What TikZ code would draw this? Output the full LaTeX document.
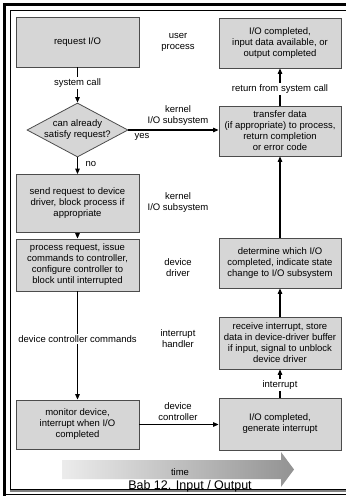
\documentclass[tikz,border=0pt]{standalone}
\usepackage{fontspec}
\setmainfont{Liberation Sans}
\usetikzlibrary{arrows.meta,shapes.geometric,backgrounds}
\begin{document}
\begin{tikzpicture}[x=1pt,y=-1pt,
  every node/.style={font=\fontsize{9.5}{11}\selectfont, text=black},
  box/.style={draw=black!70, line width=0.8pt, fill=gray!32, align=center, inner sep=0pt},
  lbox/.style={box, minimum width=123},
  rbox/.style={box, minimum width=122},
  dia/.style={diamond, draw=black!70, line width=0.8pt, fill=gray!32, minimum width=101, minimum height=54, inner sep=0pt},
  lbl/.style={align=center, inner sep=1.5pt},
  wlbl/.style={lbl, fill=white},
  arr/.style={line width=1.1pt, -{Triangle[length=5.5pt,width=4.5pt]}},
]
\useasboundingbox (0,0) rectangle (346,496);
\fill[white] (0,0) rectangle (346,496);

% frame
\draw[line width=3pt] (4.5,496) -- (4.5,4.5) -- (346,4.5);
\draw[line width=1pt] (10,489.5) -- (10,10) -- (346,10);
\draw[line width=1pt] (10,489.5) -- (346,489.5);
\draw[line width=1.5pt, gray] (10,491.2) -- (346,491.2);
\draw[line width=1pt] (4.5,494) -- (346,494);

% boxes
\node[lbox, minimum height=50] (A) at (77.5,42) {request I/O};
\node[rbox, minimum height=50] (B) at (280,43) {I/O completed,\\input data available, or\\output completed};
\node[rbox, minimum height=50] (C) at (280,131) {transfer data\\(if appropriate) to process,\\return completion\\or error code};
\node[dia] (D) at (77.5,130) {};
\node[lbl] (Dt) at (D.center) {can already\\satisfy request?};
\node[lbox, minimum height=58] (E) at (77.5,203.5) {send request to device\\driver, block process if\\appropriate};
\node[lbox, minimum height=52] (P) at (77.5,265) {process request, issue\\commands to controller,\\configure controller to\\block until interrupted};
\node[rbox, minimum height=50] (F) at (280,263) {determine which I/O\\completed, indicate state\\change to I/O subsystem};
\node[rbox, minimum height=52] (G) at (280,343) {receive interrupt, store\\data in device-driver buffer\\if input, signal to unblock\\device driver};
\node[rbox, minimum height=52] (H) at (280,424) {I/O completed,\\generate interrupt};
\node[lbox, minimum height=49] (I) at (77.5,424.5) {monitor device,\\interrupt when I/O\\completed};

% shadows
\begin{pgfonlayer}{background}
\foreach \n in {A,B,C,E,P,F,G,H,I}{
  \shade[left color=gray!12, right color=gray!90]
    ([shift={(3.5,-3.5)}]\n.south west) rectangle ([shift={(3.5,-3.5)}]\n.north east);
}
\shade[left color=gray!40, right color=gray!95]
  ([shift={(4.5,-2.4)}]D.north) -- ([shift={(4.5,-2.4)}]D.east) -- ([shift={(4.5,-2.4)}]D.south) -- ([shift={(4.5,-2.4)}]D.west) -- cycle;
\end{pgfonlayer}

% column labels
\node[lbl] (l1) at (178,42) {user\\process};
\node[lbl] (l2) at (178,116) {kernel\\I/O subsystem};
\node[lbl] (l3) at (178,203) {kernel\\I/O subsystem};
\node[lbl] (l4) at (178,268) {device\\driver};
\node[lbl] (l5) at (178,338.5) {interrupt\\handler};
\node[lbl] (l6) at (178,411.5) {device\\controller};

% connectors
\draw[arr] (A.south) -- (D.north);
\node[wlbl] (sc) at (77.5,83) {system call};
\draw[arr] (D.east) -- (D.east -| C.west);
\node[lbl] (yes) at (142,137) {yes};
\draw[arr] (D.south) -- (E.north);
\node[lbl] (no) at (91,164) {no};
\draw[arr] (E.south) -- (P.north);
\draw[arr] (P.south) -- (I.north);
\node[wlbl] (dcc) at (77.5,339) {device controller commands};
\draw[arr] (I.east) -- (I.east -| H.west);
\draw[arr] (H.north) -- (G.south);
\node[wlbl] (intr) at (280,385) {interrupt};
\draw[arr] (G.north) -- (F.south);
\draw[arr] (F.north) -- (C.south);
\draw[arr] (C.north) -- (B.south);
\node[wlbl] (ret) at (280,89) {return from system call};

% time arrow
\shade[left color=gray!15, right color=gray!85]
  (62,460) -- (281,460) -- (281,452) -- (294,469.5) -- (281,487) -- (281,479) -- (62,479) -- cycle;
\node[lbl] (time) at (180,472) {time};
\node[lbl, font=\fontsize{12.5}{14}\selectfont] (bab) at (190,486.5) {Bab 12. Input / Output};
\end{tikzpicture}
\end{document}
